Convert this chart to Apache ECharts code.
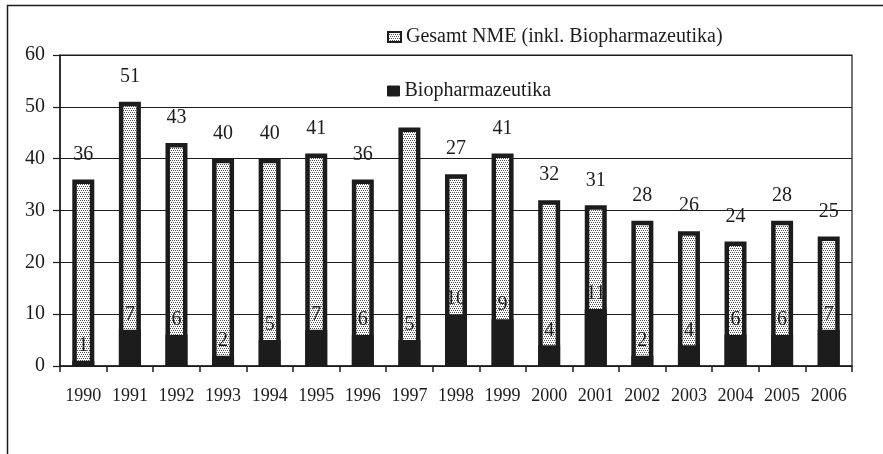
<!DOCTYPE html>
<html>
<head>
<meta charset="utf-8">
<script src="https://cdn.jsdelivr.net/npm/echarts@6/dist/echarts.min.js"></script>
<style>
  html, body { margin: 0; padding: 0; background: #fff; }
  #chart { width: 883px; height: 454px; }
</style>
</head>
<body>
<div id="chart"></div>
<script>
  // Daten
  var years = ['1990', '1991', '1992', '1993', '1994', '1995', '1996', '1997', '1998',
    '1999', '2000', '2001', '2002', '2003', '2004', '2005', '2006'];
  var gesamt = [36, 51, 43, 40, 40, 41, 36, 46, 37, 41, 32, 31, 28, 26, 24, 28, 25];
  // Beschriftungen wie im Original (1997 ohne Zahl)
  var gesamtLabels = ['36', '51', '43', '40', '40', '41', '36', '', '27', '41', '32', '31', '28', '26', '24', '28', '25'];
  var bio = [1, 7, 6, 2, 5, 7, 6, 5, 10, 9, 4, 11, 2, 4, 6, 6, 7];
  var yTicks = [0, 10, 20, 30, 40, 50, 60];

  var nameGesamt = 'Gesamt NME (inkl. Biopharmazeutika)';
  var nameBio = 'Biopharmazeutika';
  var ink = '#1c1c1c';
  var font = '"Liberation Serif", "Times New Roman", serif';

  // Punktraster fuer die Gesamt-Balken
  function dots() {
    var c = document.createElement('canvas');
    c.width = 4; c.height = 4;
    var g = c.getContext('2d');
    g.fillStyle = '#ffffff';
    g.fillRect(0, 0, 4, 4);
    g.fillStyle = '#505050';
    g.fillRect(0, 0, 1, 1);
    g.fillRect(2, 0, 1, 1);
    g.fillRect(1, 2, 1, 1);
    g.fillRect(3, 2, 1, 1);
    return c;
  }
  var dotFill = { image: dots(), repeat: 'repeat' };

  var chart = echarts.init(document.getElementById('chart'));
  var option = {
    animation: false,
    backgroundColor: '#fff',
    textStyle: { fontFamily: font, color: ink },
    graphic: [{
      type: 'rect',
      shape: { x: 7.5, y: 5.5, width: 1000, height: 600 },
      style: { fill: 'none', stroke: ink, lineWidth: 1.5 },
      silent: true
    }],
    legend: [{
      data: [{ name: nameGesamt, icon: 'rect', itemStyle: { borderWidth: 2, borderColor: ink } }],
      left: 382, top: 22,
      itemWidth: 13, itemHeight: 10, itemGap: 4,
      textStyle: { fontFamily: font, fontSize: 20, color: ink }
    }, {
      data: [{ name: nameBio, icon: 'rect', itemStyle: { borderWidth: 1, borderColor: ink } }],
      left: 382, top: 76,
      itemWidth: 12, itemHeight: 10, itemGap: 4,
      textStyle: { fontFamily: font, fontSize: 20, color: ink }
    }],
    grid: {
      left: 60, right: 31, top: 55, bottom: 88,
      show: true, borderColor: ink, borderWidth: 1.2
    },
    xAxis: {
      type: 'category',
      data: years,
      axisLine: { lineStyle: { color: ink, width: 1.5 } },
      axisTick: { show: true, length: 6, lineStyle: { color: ink, width: 1.5 } },
      axisLabel: { margin: 21, fontSize: 18, color: ink, fontFamily: font, interval: 0 }
    },
    yAxis: {
      type: 'value',
      min: yTicks[0], max: yTicks[yTicks.length - 1], interval: 10,
      axisLine: { show: true, lineStyle: { color: ink, width: 1.5 } },
      axisTick: { show: true, length: 7, lineStyle: { color: ink, width: 1.2 } },
      axisLabel: { margin: 15, fontSize: 20, color: ink, fontFamily: font },
      splitLine: { lineStyle: { color: ink, width: 1.2 } }
    },
    series: [{
      name: nameGesamt,
      type: 'bar',
      data: gesamt,
      barWidth: 22,
      barGap: '-100%',
      itemStyle: { color: dotFill, borderColor: ink, borderWidth: 4.5 },
      label: {
        show: true, position: 'top', distance: 15,
        fontSize: 20, color: ink, fontFamily: font,
        formatter: function (p) { return gesamtLabels[p.dataIndex]; }
      }
    }, {
      name: nameBio,
      type: 'bar',
      data: bio,
      barWidth: 22,
      itemStyle: { color: ink, borderColor: ink, borderWidth: 4.5 },
      label: {
        show: true, position: 'top', distance: 5,
        fontSize: 20, color: ink, fontFamily: font
      }
    }]
  };
  chart.setOption(option);
</script>
</body>
</html>
